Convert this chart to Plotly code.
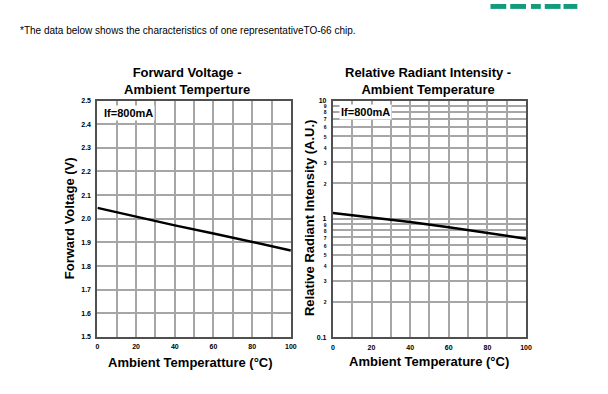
import plotly.graph_objects as go

# Data
temp = [0, 20, 40, 60, 80, 100]
vf = [2.046, 2.008, 1.972, 1.938, 1.902, 1.866]
rel_int = [1.12, 1.03, 0.94, 0.85, 0.76, 0.68]

x_ticks = [0, 20, 40, 60, 80, 100]
vf_ticks = [1.5, 1.6, 1.7, 1.8, 1.9, 2.0, 2.1, 2.2, 2.3, 2.4, 2.5]
log_tick_vals = [0.1, 0.2, 0.3, 0.4, 0.5, 0.6, 0.7, 0.8, 0.9, 1,
                 2, 3, 4, 5, 6, 7, 8, 9, 10]
log_tick_text = ["0.1", "2", "3", "4", "5", "6", "7", "8", "9", "1",
                 "2", "3", "4", "5", "6", "7", "8", "9", "10"]

W, H = 608, 394
def px(x): return x / W
def py(y): return 1 - y / H

FONT = "Liberation Sans, Arial, sans-serif"
GRID = "#a6a6a6"
FRAME = "#505050"

fig = go.Figure()
fig.add_trace(go.Scatter(x=temp, y=vf, mode="lines", line=dict(color="black", width=2.5),
                         xaxis="x", yaxis="y", showlegend=False, hoverinfo="skip"))
fig.add_trace(go.Scatter(x=temp, y=rel_int, mode="lines", line=dict(color="black", width=2.5),
                         xaxis="x2", yaxis="y2", showlegend=False, hoverinfo="skip"))

small = dict(family=FONT, size=7, color="black", weight="bold")

ytext = []
for v, t in zip(log_tick_vals, log_tick_text):
    if t in ("0.1", "1", "10"):
        ytext.append(t)
    else:
        ytext.append('<span style="font-size:5px">' + t + '</span>')

common_x = dict(range=[0, 100], tickvals=list(range(0, 101, 10)),
                ticktext=[str(v) if v % 20 == 0 else "" for v in range(0, 101, 10)],
                showgrid=True, gridcolor=GRID, gridwidth=1.5, zeroline=False,
                showline=True, linecolor=FRAME, linewidth=2, mirror=True,
                ticks="", tickfont=small, ticklabelstandoff=2)

fig.update_layout(
    width=W, height=H, margin=dict(l=0, r=0, t=0, b=0),
    paper_bgcolor="white", plot_bgcolor="white",
    xaxis=dict(domain=[px(96.7), px(292.7)], anchor="y", **common_x),
    yaxis=dict(domain=[py(339), py(98.3)], anchor="x", range=[1.5, 2.5],
               tickvals=vf_ticks, ticktext=[f"{v:.1f}" for v in vf_ticks],
               showgrid=True, gridcolor=GRID, gridwidth=1.5, zeroline=False,
               showline=True, linecolor=FRAME, linewidth=2, mirror=True,
               ticks="", tickfont=small, ticklabelstandoff=3),
    xaxis2=dict(domain=[px(335.3), px(531)], anchor="y2", **common_x),
    yaxis2=dict(domain=[py(339.3), py(98.3)], anchor="x2", type="log", range=[-1, 1],
                tickvals=log_tick_vals, ticktext=ytext,
                showgrid=True, gridcolor=GRID, gridwidth=1.5, zeroline=False,
                showline=True, linecolor=FRAME, linewidth=2, mirror=True,
                ticks="", tickfont=small, ticklabelstandoff=3),
    font=dict(family=FONT, color="black"),
)

title_font = dict(family=FONT, size=13, color="black", weight="bold")
axis_font = dict(family=FONT, size=13, color="black", weight="bold")
ann = [
    dict(text="*The data below shows the characteristics of one representativeTO-66 chip.",
         x=px(16), y=py(27), xanchor="left", yanchor="middle",
         font=dict(family=FONT, size=10, color="black")),
    dict(text="Forward Voltage -<br>Ambient Temperture", x=px(187), y=py(78),
         xanchor="center", yanchor="middle", font=title_font),
    dict(text="Relative Radiant Intensity -<br>Ambient Temperature", x=px(432), y=py(78),
         xanchor="center", yanchor="middle", font=title_font),
    dict(text="Ambient Temperatture (°C)", x=px(191), y=py(365),
         xanchor="center", yanchor="middle", font=axis_font),
    dict(text="Ambient Temperature (°C)", x=px(433), y=py(364),
         xanchor="center", yanchor="middle", font=axis_font),
    dict(text="Forward Voltage (V)", x=px(68), y=py(218), textangle=-90,
         xanchor="center", yanchor="middle", font=axis_font),
    dict(text="Relative Radiant Intensity (A.U.)", x=px(311), y=py(218), textangle=-90,
         xanchor="center", yanchor="middle", font=axis_font),
    dict(text="If=800mA", x=px(101), y=py(111), xanchor="left", yanchor="middle",
         bgcolor="white", borderpad=1,
         font=dict(family=FONT, size=11, color="black", weight="bold")),
    dict(text="If=800mA", x=px(341), y=py(110), xanchor="left", yanchor="middle",
         bgcolor="white", borderpad=1,
         font=dict(family=FONT, size=11, color="black", weight="bold")),
]
for a in ann:
    a.update(xref="paper", yref="paper", showarrow=False)
fig.update_layout(annotations=ann)

# partial green logo at top-right edge
green = "#139c7c"
shapes = []
for x0, x1 in [(495, 511), (515, 531), (536, 546), (550, 566), (569, 583)]:
    shapes.append(dict(type="rect", xref="paper", yref="paper",
                       x0=px(x0), x1=px(x1), y0=py(5), y1=1,
                       fillcolor=green, line=dict(width=0)))
fig.update_layout(shapes=shapes)

fig.write_html("out.html",
               config={"displayModeBar": False},
               post_script=("document.documentElement.style.margin='0';"
                            "document.documentElement.style.overflow='hidden';"
                            "document.body.style.margin='0';"
                            "document.body.style.padding='0';"
                            "document.body.style.overflow='hidden';"))
